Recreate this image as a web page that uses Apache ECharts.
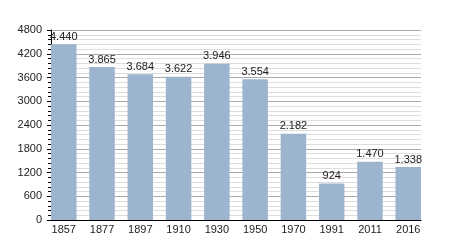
<!DOCTYPE html>
<html><head><meta charset="utf-8">
<script src="https://cdn.jsdelivr.net/npm/echarts@6/dist/echarts.min.js"></script>
<style>html,body{margin:0;padding:0;background:#fff}#c{width:450px;height:250px}</style>
</head><body><div id="c"></div>
<script>
const categories = ['1857','1877','1897','1910','1930','1950','1970','1991','2011','2016'];
const population = [4440,3865,3684,3622,3946,3554,2182,924,1470,1338];
const yTicks = [0,600,1200,1800,2400,3000,3600,4200,4800];

const fmt = v => { const s = String(v); return s.length > 3 ? s.slice(0, s.length-3) + '.' + s.slice(-3) : s; };
const FONT = 'Liberation Sans, Arial, sans-serif';
const axL = 51, axR = 421, W = axR - axL;
const barW = 25.5;
const gap = (W - 10*barW) / 9;
const band = barW + gap;
const chart = echarts.init(document.getElementById('c'), null, {renderer:'canvas'});
chart.setOption({
  animation:false,
  backgroundColor:'#fff',
  grid:[
    {left:axL, width:W, top:30, bottom:30},
    {left:axL - gap/2, width:band*10, top:30, bottom:30}
  ],
  xAxis:[
    {type:'value', gridIndex:0, min:0, max:1, axisLine:{show:true,lineStyle:{color:'#000',width:1}}, axisTick:{show:false}, axisLabel:{show:false}, splitLine:{show:false}},
    {type:'category', gridIndex:1, data:categories, axisLine:{show:false}, axisTick:{show:false},
     axisLabel:{color:'#222', fontSize:11, fontFamily:FONT, margin:4}}
  ],
  yAxis:[
    {type:'value', gridIndex:0, min:yTicks[0], max:yTicks[yTicks.length-1], interval:600,
     axisLine:{show:true,lineStyle:{color:'#000',width:1}},
     axisTick:{show:true,length:4,lineStyle:{color:'#000'}},
     minorTick:{show:true,splitNumber:5,length:3,lineStyle:{color:'#000'}},
     splitLine:{show:true,lineStyle:{color:'#aaa',width:1}},
     minorSplitLine:{show:true,lineStyle:{color:'#ddd',width:1}},
     axisLabel:{color:'#222', fontSize:11, fontFamily:FONT, margin:9, formatter:v=>String(v)}},
    {type:'value', gridIndex:1, min:yTicks[0], max:yTicks[yTicks.length-1], show:false}
  ],
  series:[{
    type:'bar', xAxisIndex:1, yAxisIndex:1, data:population, barWidth:barW,
    itemStyle:{color:'#9db4cf'},
    label:{show:true, position:'top', distance:2, color:'#222', fontSize:11, fontFamily:FONT, formatter:p=>fmt(p.value)}
  }]
});
</script></body></html>
